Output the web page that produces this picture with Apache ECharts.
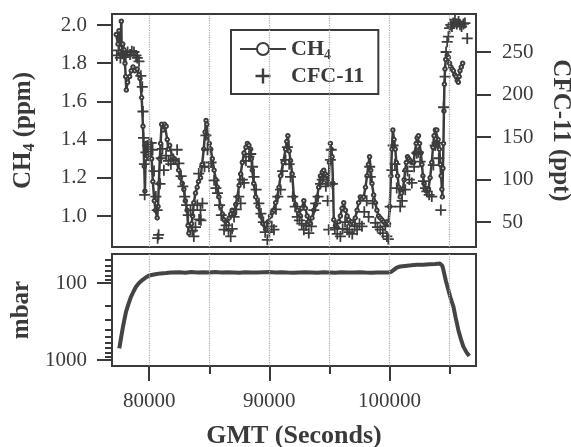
<!DOCTYPE html>
<html>
<head>
<meta charset="utf-8">
<script src="https://cdn.jsdelivr.net/npm/echarts@6/dist/echarts.min.js"></script>
<style>
html,body{margin:0;padding:0;background:#fff;}
#c{width:571px;height:447px;}
</style>
</head>
<body>
<div id="c"></div>
<script>
// ---- data ----
const ch4Time = [77250,77400,77480,77600,77675,77710,77800,77900,77980,78040,78090,78200,78370,78500,78650,78800,79000,79150,79230,79370,79480,79585,79640,79700,79750,79830,79920,80000,80110,80200,80300,80420,80530,80660,80730,80800,80880,80945,81030,81150,81280,81410,81500,81580,81700,81910,82100,82320,82450,82600,82750,82880,83000,83150,83230,83300,83400,83520,83610,83710,83850,83990,84100,84270,84400,84540,84650,84730,84800,84850,85000,85120,85250,85400,85550,85680,85800,85950,86100,86230,86380,86510,86650,86780,86900,87060,87200,87340,87480,87610,87750,87890,88050,88170,88300,88440,88500,88580,88700,88860,89050,89270,89450,89690,89900,90100,90250,90380,90520,90660,90800,90930,91150,91350,91450,91540,91650,91760,91900,92040,92180,92320,92450,92590,92700,92870,93000,93150,93300,93420,93550,93700,93850,93980,94100,94250,94400,94530,94650,94810,94940,95000,95080,95150,95220,95300,95360,95500,95640,95780,95910,96050,96190,96330,96470,96600,96740,96880,97020,97150,97300,97430,97570,97700,97850,98000,98130,98250,98340,98440,98540,98680,98820,98950,99090,99230,99370,99510,99650,99800,99920,100020,100120,100200,100280,100380,100480,100570,100670,100780,100890,101000,101120,101220,101310,101400,101500,101600,101720,101850,102000,102100,102220,102300,102410,102500,102610,102700,102780,102870,102970,103100,103240,103380,103520,103620,103710,103820,103940,104050,104150,104230,104300,104360,104400,104450,104490,104530,104570,104620,104680,104800,104900,105000,105100,105200,105320,105430,105540,105640,105730,105800,105870,105980,106090];
const ch4Value = [1.95,1.90,1.97,1.88,2.02,1.85,1.90,1.87,1.80,1.73,1.66,1.70,1.73,1.76,1.78,1.76,1.77,1.74,1.72,1.62,1.47,1.26,1.13,1.30,1.38,1.33,1.35,1.30,1.38,1.30,1.18,1.08,1.03,0.99,1.05,1.17,1.30,1.38,1.48,1.45,1.48,1.47,1.40,1.35,1.37,1.31,1.30,1.28,1.24,1.20,1.17,1.14,1.08,1.03,0.95,0.91,0.93,0.96,1.00,1.07,1.12,1.15,1.18,1.20,1.27,1.35,1.44,1.50,1.48,1.42,1.38,1.35,1.30,1.24,1.19,1.15,1.10,1.05,1.01,0.98,0.97,0.96,0.99,1.01,1.03,1.01,1.06,1.10,1.16,1.22,1.28,1.33,1.36,1.38,1.37,1.35,1.30,1.24,1.17,1.10,1.05,1.00,0.96,0.93,0.97,1.00,1.02,1.03,1.07,1.10,1.15,1.21,1.28,1.35,1.39,1.42,1.34,1.29,1.22,1.10,1.06,1.03,1.01,1.00,1.04,1.08,1.04,1.00,0.97,0.96,0.99,1.03,1.06,1.10,1.15,1.21,1.23,1.24,1.22,1.21,1.17,1.28,1.38,1.35,1.31,1.17,0.98,0.95,0.94,0.97,1.00,1.04,1.07,1.03,1.00,0.98,0.96,0.97,0.96,0.99,1.03,1.07,1.10,1.09,1.10,1.15,1.21,1.27,1.31,1.24,1.17,1.11,1.07,1.03,1.00,0.99,0.98,0.97,0.96,0.97,0.96,1.05,1.21,1.35,1.45,1.40,1.35,1.28,1.21,1.15,1.10,1.12,1.14,1.19,1.24,1.28,1.31,1.30,1.29,1.28,1.28,1.33,1.38,1.41,1.42,1.38,1.33,1.27,1.21,1.17,1.14,1.13,1.14,1.20,1.28,1.36,1.42,1.45,1.45,1.40,1.35,1.27,1.21,1.14,1.10,1.25,1.38,1.55,1.69,1.77,1.82,1.84,1.83,1.80,1.78,1.77,1.76,1.74,1.73,1.71,1.70,1.73,1.76,1.78,1.80];

const cfcTime = [77300,77450,77600,77750,77900,78050,78200,78400,78550,78730,78900,79000,79150,79300,79420,79480,79520,79600,79620,79720,79850,80000,80170,80280,80400,80550,80660,80700,80780,80900,81000,81100,81220,81400,81600,81800,82000,82320,82470,82650,82800,82950,83100,83250,83440,83600,83710,83850,84000,84120,84150,84270,84300,84430,84600,84720,84850,84980,85150,85400,85550,85680,85850,86000,86230,86400,86600,86780,86900,87060,87250,87450,87610,87750,87890,88050,88300,88450,88600,88720,88900,89130,89300,89500,89650,89830,90000,90200,90380,90550,90700,90930,91100,91350,91500,91650,91760,91950,92150,92320,92500,92700,92870,93050,93280,93500,93700,93850,94050,94250,94400,94530,94700,94850,94940,95080,95150,95250,95450,95650,95910,96100,96300,96470,96650,96900,97100,97300,97500,97710,97900,98100,98260,98350,98400,98600,98820,99000,99230,99450,99650,99780,99900,100050,100200,100300,100450,100600,100890,101050,101310,101500,101650,101860,102050,102270,102400,102550,102820,103000,103110,103300,103520,103650,103800,103950,104100,104270,104500,104630,104710,104800,104900,105000,105100,105200,105300,105450,105600,105750,105870,106000,106150,106280,106470];
const cfcValue = [246,252,243,248,244,246,250,247,251,250,246,243,239,222,209,180,149,118,82,132,140,143,143,135,110,80,64,31,35,95,125,136,111,128,122,118,124,135,119,104,92,80,70,58,64,40,33,44,70,107,53,64,52,72,115,152,135,115,120,99,90,84,70,58,41,46,40,33,42,56,65,80,72,100,96,122,127,130,115,103,88,72,60,50,38,29,38,45,41,65,80,88,110,123,138,118,103,80,68,56,52,48,41,46,37,45,64,72,80,95,100,103,92,75,41,123,135,95,43,36,33,42,50,41,38,36,45,41,48,45,62,75,56,115,103,72,49,44,41,37,45,33,30,68,111,140,118,90,68,75,88,110,100,96,115,131,132,121,98,90,86,82,80,117,140,143,125,64,185,221,250,262,268,278,282,280,284,288,283,286,282,280,283,284,266];

const presTime = [77510,77650,77790,77930,78070,78280,78480,78700,78900,79150,79450,79700,80000,80500,80970,81400,81800,82500,83000,83500,84000,84500,85000,85500,86000,86500,87000,87500,88000,88500,89000,89500,90000,90500,91000,91500,92000,92500,93000,93500,94000,94500,95000,95500,96000,96500,97000,97500,98000,98500,99000,99500,99900,100100,100330,100600,100890,101300,101800,102300,102830,103300,103800,104210,104400,104490,104700,104900,105100,105320,105500,105730,105950,106150,106400,106640];
const presValue = [705,520,388,300,236,185,151,128,112,100,91,85,80,77,75,74,73,72.5,73.5,72,73,72.5,73,72,73,72.5,73,73.5,72.5,73,73,72.5,72,73,72.5,73,73.5,73,72.5,73,73.5,72.5,73,73.5,72.5,73,73,72.5,73,73.5,73,73,73,72,68,63,61,60,59,58,58,57,56.5,56,60,68,95,123,160,203,280,407,540,671,790,887];

const gridLineTimes = [80000,85000,90000,95000,100000,105000];
const xMajorTicks = [80000,90000,100000];
const xMinorTicks = [85000,95000,105000];
const ch4Ticks = [1.0,1.2,1.4,1.6,1.8,2.0];
const cfcTicks = [50,100,150,200,250];
const presMajorTicks = [100,1000];
const presMinorTicks = [50,60,70,80,90,200,300,400,500,600,700,800,900];

// ---- chart ----
const ink = '#3a3a3a';
const serif = 'Liberation Serif';
const zip = (a,b) => a.map((v,i)=>[v,b[i]]);
const plusPath = 'path://M4.2,0H5.8V4.2H10V5.8H5.8V10H4.2V5.8H0V4.2H4.2Z';
const tickStyle = {color: ink, width: 2};
const labelStyle = {color: ink, fontFamily: serif, fontSize: 21};
const titleRich = {
  m: {fontFamily: serif, fontSize: 25, fontWeight: 'bold', color: ink, lineHeight: 28},
  s: {fontFamily: serif, fontSize: 16, fontWeight: 'bold', color: ink, lineHeight: 14, verticalAlign: 'bottom'}
};
const xRange = {min: 76900, max: 107200};
const gridMarkLine = {
  silent: true, symbol: 'none', label: {show: false},
  lineStyle: {type: 'dotted', color: '#aaa', width: 1.2},
  data: gridLineTimes.map(v => ({xAxis: v}))
};

const chart = echarts.init(document.getElementById('c'), null, {renderer: 'canvas'});
chart.setOption({
  animation: false,
  backgroundColor: '#fff',
  grid: [
    {left: 112, right: 95, top: 14, height: 233, show: true, borderColor: ink, borderWidth: 2, backgroundColor: 'transparent', outerBoundsMode: 'none', containLabel: false},
    {left: 112, right: 95, top: 254, height: 112, show: true, borderColor: ink, borderWidth: 2, backgroundColor: 'transparent', outerBoundsMode: 'none', containLabel: false}
  ],
  legend: {
    data: ['CH4', 'CFC-11'],
    orient: 'vertical', left: 231, top: 30,
    itemWidth: 46, itemHeight: 15, itemGap: 3,
    padding: [8, 14, 7, 8],
    borderColor: ink, borderWidth: 2, backgroundColor: '#fff',
    formatter: n => n === 'CH4' ? '{m|CH}{s|4}' : '{m|CFC-11}',
    textStyle: {
      rich: {
        m: {fontFamily: serif, fontSize: 22, fontWeight: 'bold', color: ink, lineHeight: 26},
        s: {fontFamily: serif, fontSize: 14, fontWeight: 'bold', color: ink, lineHeight: 12, verticalAlign: 'bottom'}
      }
    }
  },
  xAxis: [
    Object.assign({gridIndex: 0, type: 'value', axisLine: {show: false}, axisTick: {show: false}, axisLabel: {show: false}, splitLine: {show: false}}, xRange),
    Object.assign({gridIndex: 1, type: 'value', position: 'bottom',
      axisLine: {show: false},
      axisTick: {show: true, length: 15, lineStyle: tickStyle, customValues: xMajorTicks},
      axisLabel: Object.assign({show: true, margin: 25, customValues: xMajorTicks, formatter: v => String(v)}, labelStyle),
      splitLine: {show: false},
      name: 'GMT (Seconds)', nameLocation: 'middle', nameGap: 57,
      nameTextStyle: {fontFamily: serif, fontSize: 26, fontWeight: 'bold', color: ink}
    }, xRange),
    Object.assign({gridIndex: 1, type: 'value', position: 'bottom',
      axisLine: {show: false},
      axisTick: {show: true, length: 8, lineStyle: tickStyle, customValues: xMinorTicks},
      axisLabel: {show: false}, splitLine: {show: false}
    }, xRange)
  ],
  yAxis: [
    {gridIndex: 0, type: 'value', position: 'left', min: 0.8377, max: 2.0576,
      axisLine: {show: false},
      axisTick: {show: true, length: 15, lineStyle: tickStyle, customValues: ch4Ticks},
      axisLabel: Object.assign({show: true, margin: 25, customValues: ch4Ticks, formatter: v => v.toFixed(1)}, labelStyle),
      splitLine: {show: false},
      name: '{m|CH}{s|4}{m| (ppm)}', nameLocation: 'middle', nameGap: 74, nameRotate: 90,
      nameTextStyle: {rich: titleRich}
    },
    {gridIndex: 0, type: 'value', position: 'right', min: 20.6, max: 294.7,
      axisLine: {show: false},
      axisTick: {show: true, length: 15, lineStyle: tickStyle, customValues: cfcTicks},
      axisLabel: Object.assign({show: true, margin: 26, customValues: cfcTicks, formatter: v => String(v)}, labelStyle),
      splitLine: {show: false},
      name: 'CFC-11 (ppt)', nameLocation: 'middle', nameGap: 72, nameRotate: -90,
      nameTextStyle: {fontFamily: serif, fontSize: 25, fontWeight: 'bold', color: ink}
    },
    {gridIndex: 1, type: 'log', position: 'left', inverse: true, min: 42, max: 1197,
      axisLine: {show: false},
      axisTick: {show: true, length: 15, lineStyle: tickStyle, customValues: presMajorTicks},
      axisLabel: Object.assign({show: true, margin: 25, customValues: presMajorTicks, formatter: v => String(Math.round(v))}, labelStyle),
      splitLine: {show: false},
      name: 'mbar', nameLocation: 'middle', nameGap: 74, nameRotate: 90,
      nameTextStyle: {fontFamily: serif, fontSize: 25, fontWeight: 'bold', color: ink}
    },
    {gridIndex: 1, type: 'log', position: 'left', inverse: true, min: 42, max: 1197,
      axisLine: {show: false},
      axisTick: {show: true, length: 7, lineStyle: tickStyle, customValues: presMinorTicks},
      axisLabel: {show: false}, splitLine: {show: false}
    }
  ],
  series: [
    {name: 'CH4', type: 'line', xAxisIndex: 0, yAxisIndex: 0,
      data: zip(ch4Time, ch4Value),
      symbol: 'emptyCircle', symbolSize: 3.5,
      itemStyle: {color: '#3c3c3c', borderWidth: 1.5},
      lineStyle: {color: '#3c3c3c', width: 2.5},
      markLine: gridMarkLine, z: 3
    },
    {name: 'CFC-11', type: 'scatter', xAxisIndex: 0, yAxisIndex: 1,
      data: zip(cfcTime, cfcValue),
      symbol: plusPath, symbolSize: 11, symbolKeepAspect: true,
      itemStyle: {color: '#3c3c3c', opacity: 1}, z: 4
    },
    {name: 'Pressure', type: 'line', xAxisIndex: 1, yAxisIndex: 2,
      data: zip(presTime, presValue),
      showSymbol: false, symbol: 'none',
      lineStyle: {color: '#444', width: 4},
      markLine: gridMarkLine, z: 3
    }
  ]
});
</script>
</body>
</html>
